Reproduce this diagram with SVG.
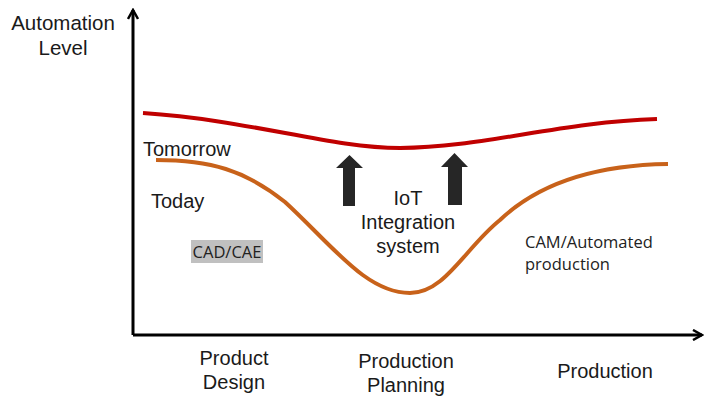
<svg xmlns="http://www.w3.org/2000/svg" width="705" height="399" viewBox="0 0 705 399">
<defs>
<style>
.lbl{font-family:"Liberation Sans",Arial,sans-serif;font-size:20px;fill:#1a1a1a;}
.small{font-family:"Open Sans","Noto Sans",sans-serif;font-size:16.5px;fill:#222;}
.axis{fill:none;stroke:#000;stroke-width:3;}
.curve{fill:none;stroke-width:4;stroke-linecap:butt;}
.blk{fill:#262626;}
</style>
<marker id="open" viewBox="0 0 12 12" refX="10" refY="6" markerWidth="12" markerHeight="12" markerUnits="userSpaceOnUse" orient="auto">
<path d="M1,1 L10,6 L1,11" fill="none" stroke="#000" stroke-width="2.5"/>
</marker>
</defs>
<rect width="705" height="399" fill="#fff"/>
<g id="connectors">
<path class="axis" d="M133,335 L133,10" marker-end="url(#open)"/>
<path class="axis" d="M133,335 L702,335" marker-end="url(#open)"/>
</g>
<g id="tomorrow-curve">
<path class="curve" stroke="#c00000" d="M143,113 C250,120 330,148 400,148 C480,148 560,122 657,119"/>
</g>
<g id="today-curve">
<path class="curve" stroke="#c8621a" d="M156,160 C210,160 245,170 285,202 C332,245 366,293 410,293 C445,293 465,248 500,220 C540,182 600,165 668,164"/>
</g>
<g id="arrow-left">
<polygon class="blk" points="343,206 355,206 355,168 363,168 349.5,155 336,168 343,168"/>
</g>
<g id="arrow-right">
<polygon class="blk" points="448,205 462,205 462,167 468,167 454.5,153 441,167 448,167"/>
</g>
<g id="y-label">
<text class="lbl" x="63" y="30" text-anchor="middle" style="font-size:20.5px">Automation</text>
<text class="lbl" x="63" y="55" text-anchor="middle" style="font-size:20.5px">Level</text>
</g>
<g id="tomorrow-label"><text class="lbl" x="143" y="156">Tomorrow</text></g>
<g id="today-label"><text class="lbl" x="151" y="208">Today</text></g>
<g id="cad">
<rect x="191" y="240" width="72" height="23" fill="#c0c0c0"/>
<text class="small" x="227" y="258" text-anchor="middle">CAD/CAE</text>
</g>
<g id="iot">
<text class="lbl" x="408" y="205" text-anchor="middle">IoT</text>
<text class="lbl" x="408" y="229" text-anchor="middle">Integration</text>
<text class="lbl" x="408" y="253" text-anchor="middle">system</text>
</g>
<g id="cam">
<text class="small" x="525" y="248">CAM/Automated</text>
<text class="small" x="525" y="270">production</text>
</g>
<g id="product-design">
<text class="lbl" x="234" y="365" text-anchor="middle">Product</text>
<text class="lbl" x="234" y="389" text-anchor="middle">Design</text>
</g>
<g id="production-planning">
<text class="lbl" x="406" y="368" text-anchor="middle">Production</text>
<text class="lbl" x="406" y="392" text-anchor="middle">Planning</text>
</g>
<g id="production">
<text class="lbl" x="605" y="378" text-anchor="middle">Production</text>
</g>
</svg>
